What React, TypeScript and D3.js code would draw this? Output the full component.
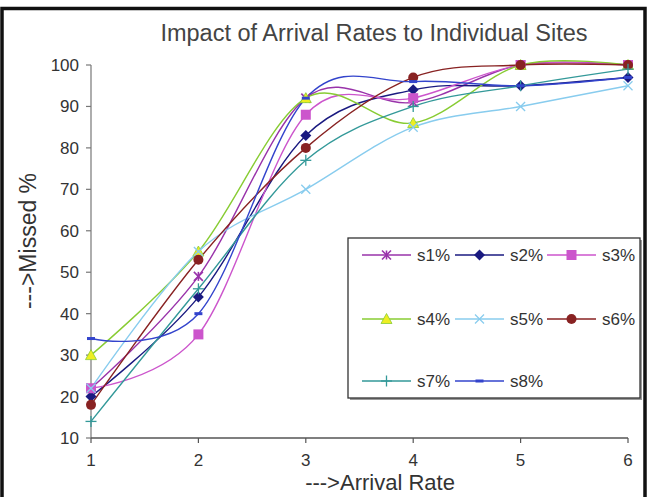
import React from "react";
import * as d3 from "d3";

const xValues = [1, 2, 3, 4, 5, 6];
const seriesNames = ["s1%", "s2%", "s3%", "s4%", "s5%", "s6%", "s7%", "s8%"];
const s1 = [22, 49, 92, 91, 100, 100];
const s2 = [20, 44, 83, 94, 95, 97];
const s3 = [22, 35, 88, 92, 100, 100];
const s4 = [30, 55, 92, 86, 100, 100];
const s5 = [22, 55, 70, 85, 90, 95];
const s6 = [18, 53, 80, 97, 100, 100];
const s7 = [14, 46, 77, 90, 95, 99];
const s8 = [34, 40, 92, 96, 95, 97];
const seriesValues = [s1, s2, s3, s4, s5, s6, s7, s8];
const lineColors = ["#9933aa", "#1a1a80", "#cc55cc", "#88cc33", "#88ccee", "#882222", "#339999", "#3344cc"];
const markerFills = ["#9933aa", "#1a1a80", "#cc55cc", "#eeee22", "#88ccee", "#882222", "#339999", "#3344cc"];
const markerTypes = ["star", "diamond", "square", "triangle", "x", "circle", "plus", "dash"];
const yTicks = [10, 20, 30, 40, 50, 60, 70, 80, 90, 100];

const W = 649;
const H = 497;
const x = d3.scaleLinear().domain([1, 6]).range([91, 628]);
const y = d3.scaleLinear().domain([10, 100]).range([438, 65]);

function Marker({ type, cx, cy, color, fill }: { type: string; cx: number; cy: number; color: string; fill: string }) {
  const s = 4.5;
  switch (type) {
    case "star":
      return (
        <g stroke={color} strokeWidth={1.6}>
          <line x1={cx - s} y1={cy - s} x2={cx + s} y2={cy + s} />
          <line x1={cx - s} y1={cy + s} x2={cx + s} y2={cy - s} />
          <line x1={cx} y1={cy - s} x2={cx} y2={cy + s} />
        </g>
      );
    case "diamond":
      return <path d={`M${cx},${cy - 5.5}L${cx + 5.5},${cy}L${cx},${cy + 5.5}L${cx - 5.5},${cy}Z`} fill={fill} />;
    case "square":
      return <rect x={cx - 5} y={cy - 5} width={10} height={10} fill={fill} />;
    case "triangle":
      return (
        <path
          d={`M${cx},${cy - 5.5}L${cx + 5.5},${cy + 4.5}L${cx - 5.5},${cy + 4.5}Z`}
          fill={fill}
          stroke={color}
          strokeWidth={0.8}
        />
      );
    case "x":
      return (
        <g stroke={color} strokeWidth={1.3}>
          <line x1={cx - s} y1={cy - s} x2={cx + s} y2={cy + s} />
          <line x1={cx - s} y1={cy + s} x2={cx + s} y2={cy - s} />
        </g>
      );
    case "circle":
      return <circle cx={cx} cy={cy} r={5} fill={fill} />;
    case "plus":
      return (
        <g stroke={color} strokeWidth={1.3}>
          <line x1={cx - s - 1} y1={cy} x2={cx + s + 1} y2={cy} />
          <line x1={cx} y1={cy - s - 1} x2={cx} y2={cy + s + 1} />
        </g>
      );
    case "dash":
      return <rect x={cx - 4} y={cy - 1.5} width={8} height={3} fill={fill} />;
    default:
      return null;
  }
}

export default function App() {
  const line = d3
    .line<number>()
    .x((_, i) => x(xValues[i]))
    .y((d) => y(d))
    .curve(d3.curveCatmullRom.alpha(0));

  const legendCols = [362, 455, 547];
  const legendRows = [255, 319, 381];

  return (
    <div style={{ position: "absolute", left: 0, top: 0 }}>
      <svg width={W} height={H} style={{ display: "block", fontFamily: "Liberation Sans, Arial, sans-serif" }}>
        <rect x={0} y={0} width={W} height={H} fill="#ffffff" />
        <rect x={2} y={8.5} width={643} height={495} fill="none" stroke="#111" strokeWidth={3.5} />
        <text x={374} y={41} textAnchor="middle" fontSize={23.5} fill="#444">
          Impact of Arrival Rates to Individual Sites
        </text>

        {/* y axis */}
        <line x1={x(1)} y1={y(100)} x2={x(1)} y2={y(10)} stroke="#777" strokeWidth={1.2} />
        {yTicks.map((t) => (
          <g key={t}>
            <line x1={x(1) - 5} y1={y(t)} x2={x(1)} y2={y(t)} stroke="#777" strokeWidth={1.2} />
            <text x={79} y={y(t) + 6} textAnchor="end" fontSize={17} fill="#333">
              {t}
            </text>
          </g>
        ))}
        {/* x axis */}
        <line x1={x(1)} y1={y(10)} x2={x(6)} y2={y(10)} stroke="#555" strokeWidth={1.5} />
        {xValues.map((t) => (
          <g key={t}>
            <line x1={x(t)} y1={y(10)} x2={x(t)} y2={y(10) + 5} stroke="#555" strokeWidth={1.2} />
            <text x={x(t)} y={466} textAnchor="middle" fontSize={17} fill="#333">
              {t}
            </text>
          </g>
        ))}
        <text x={380} y={490} textAnchor="middle" fontSize={22} fill="#333">
          ---&gt;Arrival Rate
        </text>
        <text transform={`translate(36,241) rotate(-90)`} textAnchor="middle" fontSize={23} fill="#333">
          ---&gt;Missed %
        </text>

        {/* series */}
        {seriesValues.map((vals, si) => (
          <path key={si} d={line(vals) || ""} fill="none" stroke={lineColors[si]} strokeWidth={1.4} />
        ))}
        {seriesValues.map((vals, si) =>
          vals.map((v, i) => (
            <Marker
              key={`${si}-${i}`}
              type={markerTypes[si]}
              cx={x(xValues[i])}
              cy={y(v)}
              color={lineColors[si]}
              fill={markerFills[si]}
            />
          ))
        )}

        {/* legend */}
        <rect x={350} y={240} width={292} height={160} fill="#999" />
        <rect x={348} y={238} width={292} height={160} fill="#fff" stroke="#333" strokeWidth={1.3} />
        {seriesNames.map((name, si) => {
          const cx = legendCols[si % 3];
          const cy = legendRows[Math.floor(si / 3)];
          return (
            <g key={name}>
              <line x1={cx} y1={cy} x2={cx + 49} y2={cy} stroke={lineColors[si]} strokeWidth={1.5} />
              <Marker type={markerTypes[si]} cx={cx + 24.5} cy={cy} color={lineColors[si]} fill={markerFills[si]} />
              <text x={cx + 55} y={cy + 6} fontSize={17} fill="#333">
                {name}
              </text>
            </g>
          );
        })}
      </svg>
    </div>
  );
}
